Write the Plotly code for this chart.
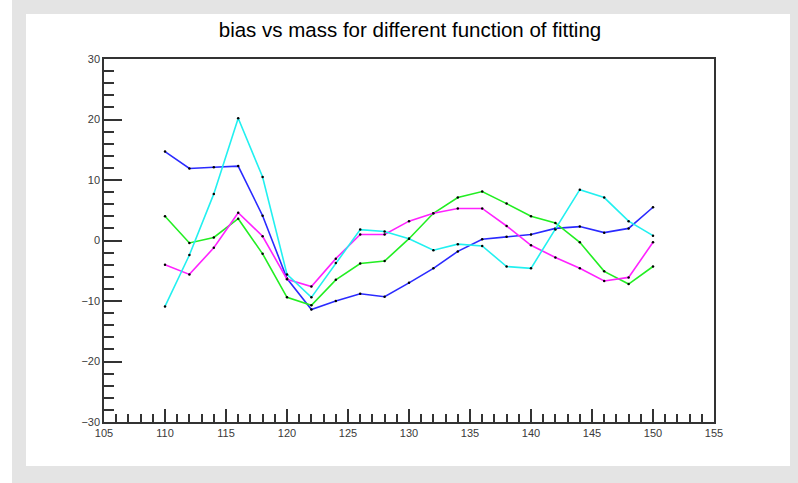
import plotly.graph_objects as go

# Mass points (GeV) and bias for each fitting function
mass = [110, 112, 114, 116, 118, 120, 122, 124, 126, 128, 130,
        132, 134, 136, 138, 140, 142, 144, 146, 148, 150]

bias_blue = [14.7, 11.9, 12.1, 12.3, 4.1, -6.3, -11.4, -10.0, -8.8, -9.3, -7.0,
             -4.6, -1.8, 0.2, 0.6, 1.0, 2.0, 2.3, 1.3, 2.0, 5.5]
bias_green = [4.0, -0.4, 0.5, 3.6, -2.2, -9.4, -10.7, -6.5, -3.8, -3.4, 0.3,
              4.5, 7.1, 8.1, 6.1, 4.0, 2.9, -0.3, -5.1, -7.2, -4.3]
bias_magenta = [-4.0, -5.6, -1.2, 4.6, 0.7, -6.4, -7.6, -3.0, 1.0, 1.0, 3.2,
                4.5, 5.3, 5.3, 2.4, -0.8, -2.8, -4.6, -6.7, -6.1, -0.3]
bias_cyan = [-10.9, -2.4, 7.7, 20.2, 10.5, -5.6, -9.4, -3.7, 1.8, 1.5, 0.3,
             -1.6, -0.6, -0.9, -4.3, -4.6, 1.8, 8.4, 7.1, 3.2, 0.8]

series = [
    (bias_blue, "#2a2aff"),
    (bias_green, "#22ee22"),
    (bias_magenta, "#ff22ff"),
    (bias_cyan, "#22f0f0"),
]

fig = go.Figure()
for values, color in series:
    fig.add_trace(go.Scatter(
        x=mass, y=values, mode="lines+markers",
        line=dict(color=color, width=1.6),
        marker=dict(color="black", size=2.5),
        showlegend=False,
    ))

# Canvas frame: grey border around a white pad (paper coordinates)
W, H = 798, 483
L, R, T, B = 104, 714, 59, 422
pw, ph = R - L, B - T


def px_x(p):
    return (p - L) / pw


def px_y(p):
    return (B - p) / ph


fig.add_shape(type="rect", xref="paper", yref="paper", layer="below",
              x0=px_x(12), x1=px_x(798), y0=px_y(483), y1=px_y(0),
              fillcolor="#e4e4e4", line=dict(width=0))
fig.add_shape(type="rect", xref="paper", yref="paper", layer="below",
              x0=px_x(26), x1=px_x(790), y0=px_y(466), y1=px_y(14),
              fillcolor="white", line=dict(width=0))

tickfont = dict(family="Liberation Sans, Arial, sans-serif", size=11, color="#3a3a3a")

fig.update_layout(
    width=W, height=H,
    margin=dict(l=L, r=W - R, t=T, b=H - B),
    paper_bgcolor="white",
    plot_bgcolor="rgba(0,0,0,0)",
    title=dict(text="bias vs mass for different function of fitting",
               x=px_x(410), xref="paper", xanchor="center",
               y=1 - 30 / H, yanchor="middle",
               font=dict(family="Liberation Sans, Arial, sans-serif", size=20.5, color="black")),
    xaxis=dict(range=[105, 155], dtick=5, tick0=105,
               ticks="inside", ticklen=13, tickwidth=1.5, tickcolor="#333333",
               minor=dict(dtick=1, ticks="inside", ticklen=8, tickwidth=1.5, tickcolor="#333333"),
               showgrid=False, zeroline=False,
               showline=True, linecolor="#333333", linewidth=1.5, mirror=True,
               tickfont=tickfont),
    yaxis=dict(range=[-30, 30], dtick=10, tick0=-30,
               ticks="inside", ticklen=18, tickwidth=1.5, tickcolor="#333333",
               minor=dict(dtick=2, ticks="inside", ticklen=10, tickwidth=1.5, tickcolor="#333333"),
               showgrid=False, zeroline=False,
               showline=True, linecolor="#333333", linewidth=1.5, mirror=True,
               tickfont=tickfont),
)

fig.write_html("out.html")
